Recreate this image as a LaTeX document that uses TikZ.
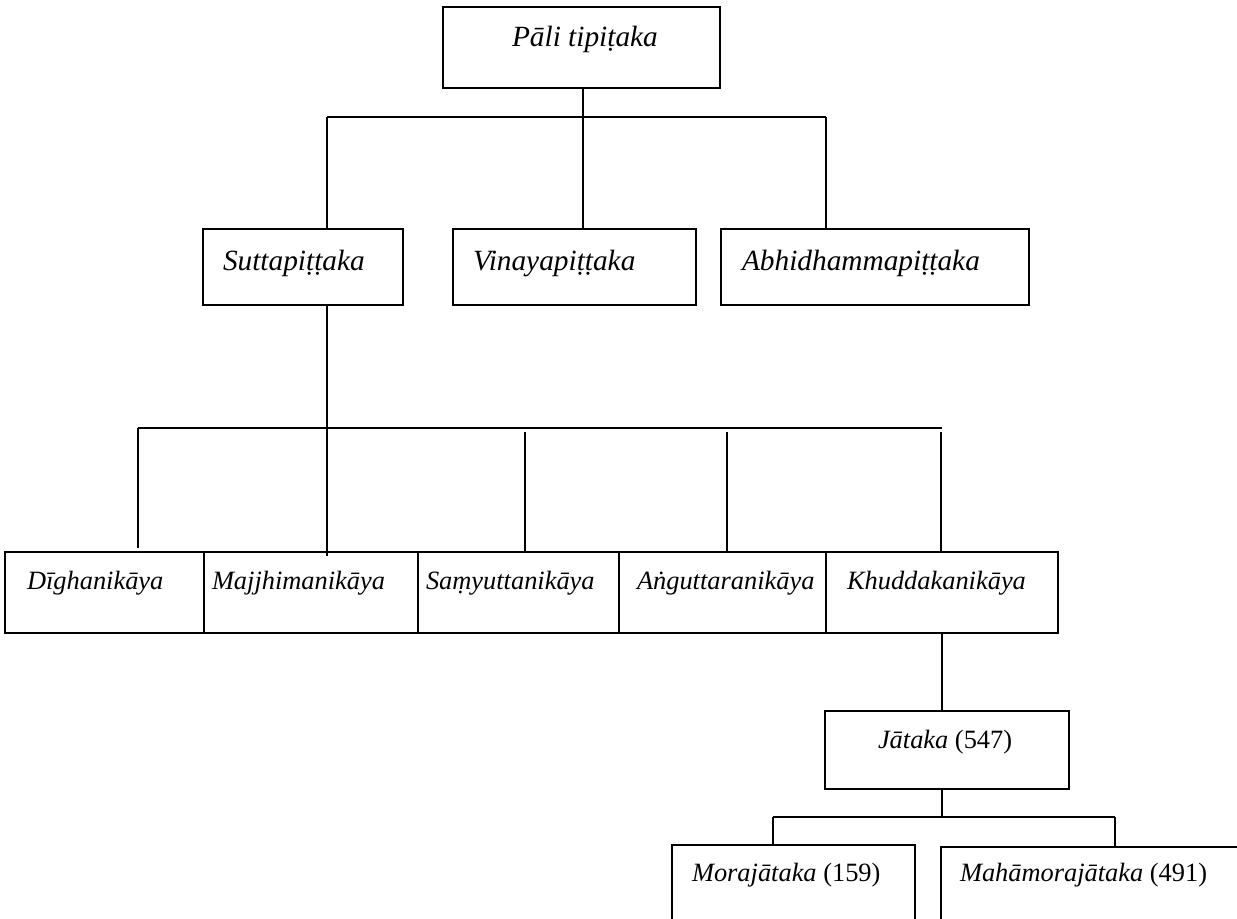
\documentclass[tikz,border=0pt]{standalone}
\usepackage{fontspec}
\setmainfont{Liberation Serif}
\usetikzlibrary{calc}
\tikzset{
  box/.style={draw, line width=1.5pt, rectangle, inner sep=0pt, outer sep=0pt},
  lbl/.style={anchor=base west, inner sep=0pt, outer sep=0pt, font=\fontsize{22}{26}\selectfont},
  lbls/.style={anchor=base west, inner sep=0pt, outer sep=0pt, font=\fontsize{19.8}{24}\selectfont},
  conn/.style={line width=1.5pt},
}
\begin{document}
\begin{tikzpicture}[x=0.75pt, y=-0.75pt]
\path[use as bounding box, clip] (0,0) rectangle (1237,919);
\fill[white] (0,0) rectangle (1237,919);
% boxes
\node[box, minimum width=207.75pt, minimum height=60.75pt] (top) at (581.5,47.5) {};
\node[box, minimum width=150pt, minimum height=57pt] (sutta) at (303,267) {};
\node[box, minimum width=182.25pt, minimum height=57pt] (vinaya) at (574.5,267) {};
\node[box, minimum width=231pt, minimum height=57pt] (abhi) at (875,267) {};
\node[box, minimum width=149.25pt, minimum height=60.75pt] (digha) at (104.5,592.5) {};
\node[box, minimum width=160.5pt, minimum height=60.75pt] (majjh) at (311,592.5) {};
\node[box, minimum width=150.75pt, minimum height=60.75pt] (samyu) at (518.5,592.5) {};
\node[box, minimum width=155.25pt, minimum height=60.75pt] (angu) at (722.5,592.5) {};
\node[box, minimum width=174pt, minimum height=60.75pt] (khud) at (942,592.5) {};
\node[box, minimum width=183pt, minimum height=58.5pt] (jat) at (947,750) {};
\node[box, minimum width=182.25pt, minimum height=67.5pt] (mora) at (793.5,890) {};
\node[box, minimum width=224.25pt, minimum height=66pt] (maha) at (1090.5,891) {};
% labels
\node[lbl] (ttop) at (512,47) {\textit{Pāli tipiṭaka}};
\node[lbl] (tsutta) at (223,271) {\textit{Suttapiṭṭaka}};
\node[lbl] (tvinaya) at (473,271) {\textit{Vinayapiṭṭaka}};
\node[lbl] (tabhi) at (742,271) {\textit{Abhidhammapiṭṭaka}};
\node[lbls] (tdigha) at (27,589) {\textit{Dīghanikāya}};
\node[lbls] (tmajjh) at (212,589) {\textit{Majjhimanikāya}};
\node[lbls] (tsamyu) at (426,589) {\textit{Saṃyuttanikāya}};
\node[lbls] (tangu) at (637,589) {\textit{Aṅguttaranikāya}};
\node[lbls] (tkhud) at (847,589) {\textit{Khuddakanikāya}};
\node[lbls] (tjat) at (878,748) {\textit{Jātaka} (547)};
\node[lbls] (tmora) at (692,881) {\textit{Morajātaka} (159)};
\node[lbls] (tmaha) at (960,881) {\textit{Mahāmorajātaka} (491)};
% bus coordinates
\coordinate (b1L) at (327,117);
\coordinate (b1M) at (583,117);
\coordinate (b1R) at (826,117);
\coordinate (b2L) at (138,428);
\coordinate (b2R) at (942,428);
\coordinate (b3L) at (773,817);
\coordinate (b3R) at (1115,817);
% level 1
\draw[conn] (top.south -| b1M) -- (b1M);
\draw[conn] (b1L) -- (b1R);
\draw[conn] (b1L) -- (b1L |- sutta.north);
\draw[conn] (b1M) -- (b1M |- vinaya.north);
\draw[conn] (b1R) -- (b1R |- abhi.north);
% level 2
\draw[conn] (b1L |- sutta.south) -- ($(b1L |- majjh.north)+(0,4)$);
\draw[conn] (b2L) -- (b2R);
\draw[conn] (b2L) -- ($(b2L |- digha.north)+(0,-4)$);
\draw[conn] (525,432) -- (525,432 |- samyu.north);
\draw[conn] (727,432) -- (727,432 |- angu.north);
\draw[conn] (941,432) -- (941,432 |- khud.north);
% level 3
\draw[conn] (khud.south -| b2R) -- (jat.north -| b2R);
\draw[conn] (jat.south -| b2R) -- (b2R |- b3L);
\draw[conn] (b3L) -- (b3R);
\draw[conn] (b3L) -- (b3L |- mora.north);
\draw[conn] (b3R) -- (b3R |- maha.north);
\end{tikzpicture}
\end{document}
